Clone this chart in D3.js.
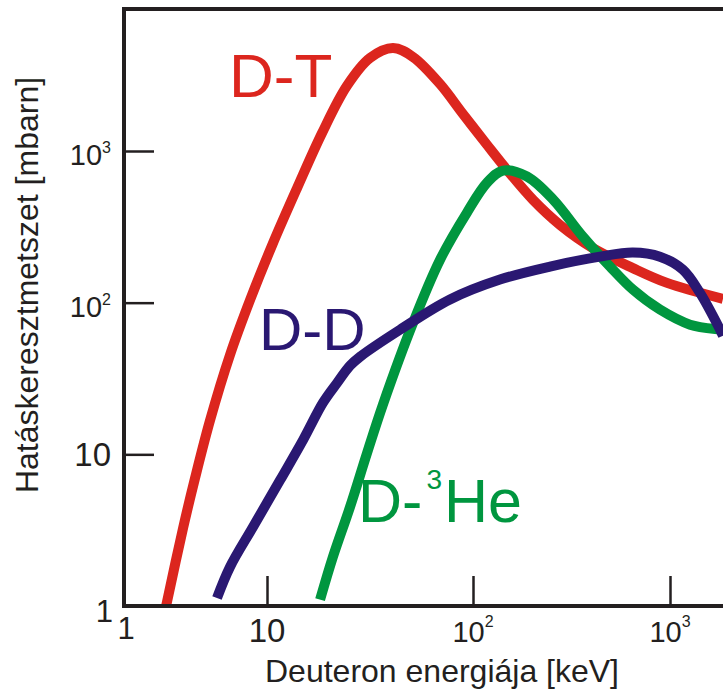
<!DOCTYPE html>
<html>
<head>
<meta charset="utf-8">
<script src="https://cdn.jsdelivr.net/npm/d3@7"></script>
<style>
  html, body { margin: 0; padding: 0; background: #fff; }
  svg { display: block; }
  text { font-family: "Liberation Sans", Arial, Helvetica, sans-serif; }
</style>
</head>
<body>
<svg id="chart" width="723" height="693"></svg>
<script>
// ---- data ----
const dtEnergy  = [1.97, 2.59, 3.14, 4.0, 5.51, 7.61, 10.6, 14.0, 18.5, 24.4, 31.6, 40.9, 51.2, 69.2, 89.4, 118, 149, 202, 277, 406, 648, 966, 1858];
const dtSigma   = [1.0, 3.27, 6.98, 16.8, 45.2, 104, 240, 570, 1314, 2681, 4103, 4777, 4165, 2765, 1754, 1096, 750, 475, 325, 229, 169, 135, 106];

const ddEnergy  = [4.47, 5.51, 7.98, 11.6, 15.0, 18.7, 21.9, 25.3, 28.3, 44.3, 77.3, 137, 246, 441, 648, 889, 1164, 1420, 1795, 1858];
const ddSigma   = [1.13, 1.81, 3.32, 6.79, 12.5, 21.9, 29.6, 38.4, 44.0, 66.4, 105, 142, 173, 201, 214, 201, 165, 116, 66.4, 60.5];

const dheEnergy = [18.1, 20.9, 25.3, 30.6, 36.5, 51.2, 69.2, 93.5, 118, 142, 188, 255, 361, 496, 648, 889, 1264, 1795, 1858];
const dheSigma  = [1.10, 2.11, 4.50, 10.2, 21.2, 73.8, 192, 393, 620, 743, 679, 479, 273, 173, 122, 90, 71.6, 66.4, 66];

const xTicks       = [1, 10, 100, 1000];
const xTickBase    = ["1", "10", "10", "10"];
const xTickSup     = ["", "", "2", "3"];
const yTicks       = [1, 10, 100, 1000];
const yTickBase    = ["1", "10", "10", "10"];
const yTickSup     = ["", "", "2", "3"];
const yTop         = 8630;

const seriesNames  = ["D-T", "D-D", "D-", "3", "He"];
const xTitle = "Deuteron energiája [keV]";
const yTitle = "Hatáskeresztmetszet [mbarn]";

// ---- styles ----
const RED = "#dc261e", BLUE = "#2a1872", GREEN = "#00963f", INK = "#231f20";

const svg = d3.select("#chart");

// piecewise log scale (decades on the original are not equally wide)
const x = d3.scaleLog().domain([1, 10, 100, 1000]).range([124, 267, 473, 670]);
const y = d3.scaleLog().domain([1, 1000]).range([606, 151]);

const xRight = 723;
const yBottom = y(1), yTopPx = y(yTop);

svg.append("clipPath").attr("id", "plotclip")
  .append("rect").attr("x", x(1)).attr("y", yTopPx)
  .attr("width", xRight - x(1)).attr("height", yBottom - yTopPx - 1);

// ---- ticks (inward) ----
const xAxis = d3.axisBottom(x).tickValues(xTicks.slice(1)).tickSizeInner(-30).tickSizeOuter(0).tickFormat("");
const yAxis = d3.axisLeft(y).tickValues(yTicks.slice(1)).tickSizeInner(-30).tickSizeOuter(0).tickFormat("");
const gx = svg.append("g").attr("transform", `translate(0,${yBottom})`).call(xAxis);
const gy = svg.append("g").attr("transform", `translate(${x(1)},0)`).call(yAxis);
[gx, gy].forEach(g => {
  g.select(".domain").remove();
  g.selectAll(".tick line").attr("stroke", INK).attr("stroke-width", 2.5);
});

// ---- curves ----
const line = d3.line().x(d => x(d[0])).y(d => y(d[1])).curve(d3.curveCatmullRom.alpha(0.5));
const series = [
  { e: dtEnergy, s: dtSigma, c: RED },
  { e: dheEnergy, s: dheSigma, c: GREEN },
  { e: ddEnergy, s: ddSigma, c: BLUE }
];
const gCurves = svg.append("g").attr("clip-path", "url(#plotclip)");
series.forEach(sr => {
  gCurves.append("path")
    .datum(d3.zip(sr.e, sr.s))
    .attr("d", line)
    .attr("fill", "none")
    .attr("stroke", sr.c)
    .attr("stroke-width", 10)
    .attr("stroke-linejoin", "round");
});

// ---- frame ----
const frame = svg.append("g").attr("stroke", INK).attr("stroke-width", 4).attr("fill", "none");
frame.append("path").attr("d", `M${xRight},${yTopPx} H${x(1)} V${yBottom} H${xRight}`)
  .attr("stroke-linejoin", "miter");

// ---- tick labels ----
xTicks.forEach((v, i) => {
  const t = svg.append("text").attr("x", x(v) + (i === 0 ? 2 : 0)).attr("y", i === 0 ? 639 : 642)
    .attr("text-anchor", "middle").attr("fill", INK);
  if (xTickSup[i]) {
    t.append("tspan").attr("font-size", 29).text(xTickBase[i]);
    t.append("tspan").attr("font-size", 16).attr("dy", -15).text(xTickSup[i]);
  } else {
    t.attr("font-size", i === 0 ? 31 : 33).text(xTickBase[i]);
  }
});
yTicks.forEach((v, i) => {
  const t = svg.append("text").attr("text-anchor", "end").attr("fill", INK);
  if (yTickSup[i]) {
    t.attr("x", 111).attr("y", y(v) + 14);
    t.append("tspan").attr("font-size", 29).text(yTickBase[i]);
    t.append("tspan").attr("font-size", 16).attr("dy", -12).text(yTickSup[i]);
  } else if (i === 0) {
    t.attr("x", 113).attr("y", y(v) + 16).attr("font-size", 31).text(yTickBase[i]);
  } else {
    t.attr("x", 111).attr("y", y(v) + 12).attr("font-size", 33).text(yTickBase[i]);
  }
});

// ---- axis titles ----
svg.append("text").attr("x", 442).attr("y", 682).attr("text-anchor", "middle")
  .attr("font-size", 32).attr("fill", INK).text(xTitle);
svg.append("text").attr("transform", "translate(38,285) rotate(-90)").attr("text-anchor", "middle")
  .attr("font-size", 32).attr("fill", INK).text(yTitle);

// ---- series labels ----
svg.append("text").attr("x", 229).attr("y", 97).attr("font-size", 62).attr("fill", RED).text(seriesNames[0]);
svg.append("text").attr("x", 259).attr("y", 350).attr("font-size", 60).attr("fill", BLUE).text(seriesNames[1]);
const lab3 = svg.append("text").attr("x", 358).attr("y", 522).attr("font-size", 61).attr("fill", GREEN);
lab3.append("tspan").text(seriesNames[2]);
lab3.append("tspan").attr("font-size", 28).attr("dy", -33).attr("dx", 4).text(seriesNames[3]);
lab3.append("tspan").attr("dy", 33).attr("dx", 2).text(seriesNames[4]);
</script>
</body>
</html>
